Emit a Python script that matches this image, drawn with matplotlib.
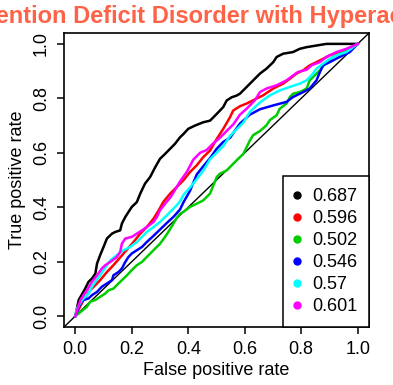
import matplotlib
matplotlib.use("Agg")
import matplotlib.pyplot as plt
from matplotlib.lines import Line2D

plt.rcParams['font.family'] = ['Liberation Sans', 'DejaVu Sans']

title = "Attention Deficit Disorder with Hyperactivity"
auc_labels = ["0.687", "0.596", "0.502", "0.546", "0.57", "0.601"]
colors = ["black", "#FF0000", "#00CD00", "#0000FF", "#00FFFF", "#FF00FF"]
ticks = [0.0, 0.2, 0.4, 0.6, 0.8, 1.0]
tick_labels = ["0.0", "0.2", "0.4", "0.6", "0.8", "1.0"]

# ROC curves (false positive rate, true positive rate)
fpr_black = [0, 0.012, 0.035, 0.047, 0.059, 0.071, 0.077, 0.088, 0.100, 0.112,
             0.130, 0.141, 0.159, 0.165, 0.177, 0.188, 0.200, 0.218, 0.230, 0.247,
             0.265, 0.283, 0.300, 0.318, 0.336, 0.353, 0.371, 0.383, 0.400, 0.424,
             0.453, 0.477, 0.501, 0.512, 0.524, 0.536, 0.554, 0.571, 0.583, 0.607,
             0.630, 0.654, 0.677, 0.701, 0.713, 0.736, 0.771, 0.795, 0.819, 0.854,
             0.889, 1.0]
tpr_black = [0, 0.059, 0.101, 0.126, 0.138, 0.156, 0.193, 0.224, 0.254, 0.285,
             0.303, 0.309, 0.315, 0.340, 0.364, 0.382, 0.401, 0.419, 0.450, 0.487,
             0.511, 0.547, 0.578, 0.596, 0.615, 0.633, 0.657, 0.669, 0.688, 0.700,
             0.712, 0.718, 0.743, 0.755, 0.768, 0.792, 0.804, 0.810, 0.817, 0.842,
             0.866, 0.891, 0.909, 0.933, 0.952, 0.964, 0.970, 0.982, 0.988, 0.994,
             1.0, 1.0]

fpr_red = [0, 0.029, 0.053, 0.088, 0.112, 0.135, 0.171, 0.206, 0.230, 0.253,
           0.277, 0.295, 0.312, 0.336, 0.359, 0.383, 0.406, 0.430, 0.453, 0.477,
           0.501, 0.524, 0.548, 0.559, 0.583, 0.607, 0.630, 0.665, 0.701, 0.736,
           0.760, 0.783, 0.807, 0.830, 0.854, 0.877, 0.901, 0.936, 0.972, 1.0]
tpr_red = [0, 0.059, 0.095, 0.132, 0.162, 0.187, 0.230, 0.272, 0.303, 0.327,
           0.358, 0.388, 0.420, 0.450, 0.474, 0.499, 0.529, 0.554, 0.584, 0.608,
           0.651, 0.688, 0.731, 0.755, 0.771, 0.781, 0.793, 0.811, 0.836, 0.854,
           0.872, 0.891, 0.903, 0.921, 0.933, 0.945, 0.958, 0.970, 0.982, 1.0]

fpr_green = [0, 0.041, 0.053, 0.071, 0.088, 0.106, 0.118, 0.135, 0.153, 0.171,
             0.183, 0.200, 0.218, 0.236, 0.253, 0.277, 0.300, 0.318, 0.336, 0.359,
             0.371, 0.383, 0.406, 0.430, 0.453, 0.477, 0.501, 0.512, 0.536, 0.571,
             0.595, 0.607, 0.618, 0.630, 0.654, 0.677, 0.689, 0.713, 0.724, 0.748,
             0.760, 0.771, 0.795, 0.819, 0.830, 0.842, 0.866, 0.889, 0.913, 0.936,
             0.972, 1.0]
tpr_green = [0, 0.034, 0.053, 0.059, 0.071, 0.083, 0.095, 0.101, 0.120, 0.138,
             0.150, 0.169, 0.187, 0.199, 0.217, 0.242, 0.266, 0.291, 0.320, 0.360,
             0.376, 0.383, 0.401, 0.413, 0.425, 0.450, 0.511, 0.523, 0.535, 0.572,
             0.596, 0.621, 0.645, 0.665, 0.680, 0.701, 0.720, 0.738, 0.762, 0.781,
             0.805, 0.817, 0.823, 0.836, 0.866, 0.878, 0.903, 0.933, 0.952, 0.964,
             0.976, 1.0]

fpr_blue = [0, 0.018, 0.029, 0.047, 0.059, 0.077, 0.094, 0.112, 0.130, 0.135,
            0.153, 0.165, 0.177, 0.188, 0.200, 0.218, 0.236, 0.253, 0.277, 0.300,
            0.324, 0.348, 0.371, 0.383, 0.406, 0.418, 0.430, 0.453, 0.477, 0.501,
            0.524, 0.548, 0.571, 0.583, 0.618, 0.654, 0.701, 0.748, 0.771, 0.807,
            0.830, 0.854, 0.866, 0.877, 0.901, 0.936, 0.972, 1.0]
tpr_blue = [0, 0.047, 0.059, 0.065, 0.077, 0.089, 0.108, 0.120, 0.132, 0.150,
            0.162, 0.175, 0.199, 0.217, 0.230, 0.242, 0.254, 0.272, 0.295, 0.318,
            0.342, 0.365, 0.392, 0.418, 0.460, 0.490, 0.520, 0.550, 0.580, 0.615,
            0.640, 0.655, 0.690, 0.707, 0.740, 0.760, 0.774, 0.787, 0.805, 0.823,
            0.836, 0.866, 0.896, 0.921, 0.933, 0.952, 0.970, 1.0]

fpr_cyan = [0, 0.006, 0.024, 0.047, 0.059, 0.071, 0.088, 0.100, 0.112, 0.124,
            0.147, 0.171, 0.194, 0.218, 0.236, 0.253, 0.277, 0.300, 0.324, 0.342,
            0.359, 0.371, 0.383, 0.406, 0.430, 0.453, 0.477, 0.501, 0.524, 0.548,
            0.571, 0.595, 0.618, 0.654, 0.689, 0.724, 0.760, 0.795, 0.819, 0.836,
            0.854, 0.877, 0.901, 0.925, 0.960, 1.0]
tpr_cyan = [0, 0.028, 0.059, 0.083, 0.108, 0.126, 0.150, 0.169, 0.187, 0.205,
            0.224, 0.242, 0.254, 0.272, 0.291, 0.309, 0.327, 0.346, 0.370, 0.389,
            0.407, 0.422, 0.445, 0.472, 0.503, 0.534, 0.576, 0.601, 0.625, 0.662,
            0.686, 0.711, 0.750, 0.785, 0.811, 0.829, 0.842, 0.854, 0.866, 0.884,
            0.909, 0.927, 0.945, 0.958, 0.970, 1.0]

fpr_magenta = [0, 0.018, 0.041, 0.059, 0.077, 0.094, 0.106, 0.124, 0.147, 0.159,
               0.165, 0.177, 0.200, 0.218, 0.236, 0.253, 0.277, 0.289, 0.300, 0.318,
               0.336, 0.348, 0.371, 0.395, 0.418, 0.442, 0.465, 0.489, 0.512, 0.536,
               0.560, 0.583, 0.607, 0.636, 0.654, 0.677, 0.713, 0.748, 0.771, 0.789,
               0.819, 0.836, 0.866, 0.889, 0.925, 0.960, 1.0]
tpr_magenta = [0, 0.059, 0.095, 0.126, 0.150, 0.175, 0.187, 0.199, 0.217, 0.236,
               0.266, 0.285, 0.291, 0.303, 0.315, 0.327, 0.346, 0.364, 0.389, 0.413,
               0.435, 0.455, 0.495, 0.530, 0.575, 0.600, 0.610, 0.635, 0.655, 0.680,
               0.705, 0.740, 0.762, 0.793, 0.823, 0.836, 0.848, 0.866, 0.884, 0.897,
               0.905, 0.921, 0.933, 0.952, 0.970, 0.982, 1.0]

curves = [(fpr_black, tpr_black), (fpr_red, tpr_red), (fpr_green, tpr_green),
          (fpr_blue, tpr_blue), (fpr_cyan, tpr_cyan), (fpr_magenta, tpr_magenta)]

fig = plt.figure(figsize=(3.93, 3.85), dpi=100)
ax = fig.add_axes([64 / 393, 1 - 327 / 385, 305 / 393, 294 / 385])

# chance line
ax.axline((0, 0), (1, 1), color="black", lw=1.0)

for (fpr, tpr), c in zip(curves, colors):
    ax.plot(fpr, tpr, color=c, lw=1.8)

ax.set_xlim(-0.04, 1.04)
ax.set_ylim(-0.04, 1.04)
ax.set_xticks(ticks)
ax.set_xticklabels(tick_labels)
ax.set_yticks(ticks)
ax.set_yticklabels(tick_labels, rotation=90, va="center")
ax.tick_params(direction="out", length=5, width=1.1, labelsize=13, pad=5)
for s in ax.spines.values():
    s.set_linewidth(1.2)

ax.set_xlabel("False positive rate", fontsize=13, labelpad=3)
ax.set_ylabel("True positive rate", fontsize=13, labelpad=5)
# the reference title is wider than the figure and gets cut at both edges
ax.set_title(title, color="#FF6347", fontweight="bold", fontsize=17, pad=7,
             x=0.48)

handles = [Line2D([], [], ls="none", marker="o", color=c, markersize=5) for c in colors]
leg = ax.legend(handles, auc_labels, loc="lower right", borderaxespad=0,
                fancybox=False, edgecolor="black", framealpha=1, fontsize=13,
                handlelength=0.2, handletextpad=0.75, labelspacing=0.28,
                borderpad=0.65)
leg.get_frame().set_linewidth(1.1)

fig.savefig("out.png", dpi=100)
